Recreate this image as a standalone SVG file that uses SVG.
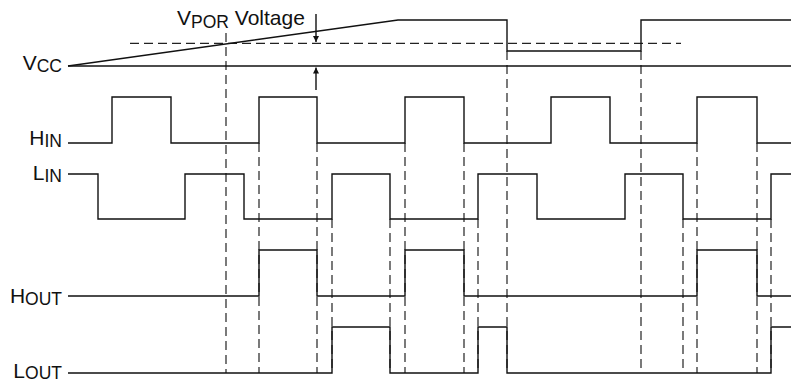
<svg xmlns="http://www.w3.org/2000/svg" width="791" height="383" viewBox="0 0 791 383">
<defs>
<style>
.w{fill:none;stroke:#111;stroke-width:1.4;stroke-linejoin:miter}
.d{fill:none;stroke:#222;stroke-width:1.2;stroke-dasharray:9 5}
.t{font-family:"Liberation Sans",Arial,sans-serif;font-size:21px;fill:#111}
.s{font-size:17.5px}
</style>
<marker id="ah" viewBox="0 0 6 10" refX="6" refY="5" markerWidth="6" markerHeight="10" markerUnits="userSpaceOnUse" orient="auto">
<path d="M0,2 L6,5 L0,8 z" fill="#111"/>
</marker>
</defs>
<rect width="791" height="383" fill="#fff"/>
<g id="connectors">
<path class="d" d="M130,43.3 H681"/>
<path class="d" d="M226,33 V373"/>
<path class="d" d="M259,143 V373 M317,143 V373 M405,143 V373 M464,143 V373 M697,143 V373 M757,143 V373"/>
<path class="d" d="M332,219 V373 M390,219 V373 M478,219 V373 M683,219 V373 M771,219 V373"/>
<path class="d" d="M507,51 V373 M641,51 V373"/>
<path class="w" d="M316,14 V42" marker-end="url(#ah)"/>
<path class="w" d="M316,90 V67.5" marker-end="url(#ah)"/>
</g>
<g id="vcc">
<text class="t" x="62" y="69.5" text-anchor="end">V<tspan class="s" dy="2.5">CC</tspan></text>
<path class="w" d="M68,66 H791"/>
<path class="w" d="M68,66 L398,20 H507 V51 H641 V20 H791"/>
</g>
<g id="vpor">
<text class="t" x="177" y="25">V<tspan class="s" dy="2.5">POR</tspan><tspan dy="-2.5"> Voltage</tspan></text>
</g>
<g id="hin">
<text class="t" x="62" y="145" text-anchor="end">H<tspan class="s" dy="2">IN</tspan></text>
<path class="w" d="M68,143 H112 V97 H171 V143 H259 V97 H317 V143 H405 V97 H464 V143 H551 V97 H610 V143 H697 V97 H757 V143 H791"/>
</g>
<g id="lin">
<text class="t" x="62" y="180" text-anchor="end">L<tspan class="s" dy="2">IN</tspan></text>
<path class="w" d="M68,174 H98 V219 H185 V174 H244 V219 H332 V174 H390 V219 H478 V174 H537 V219 H625 V174 H683 V219 H771 V174 H791"/>
</g>
<g id="hout">
<text class="t" x="62" y="303" text-anchor="end">H<tspan class="s" dy="2">OUT</tspan></text>
<path class="w" d="M68,296 H259 V250 H317 V296 H405 V250 H464 V296 H697 V250 H757 V296 H791"/>
</g>
<g id="lout">
<text class="t" x="62" y="378" text-anchor="end">L<tspan class="s" dy="1">OUT</tspan></text>
<path class="w" d="M68,373 H332 V327 H390 V373 H478 V327 H507 V373 H771 V327 H791"/>
</g>
</svg>
